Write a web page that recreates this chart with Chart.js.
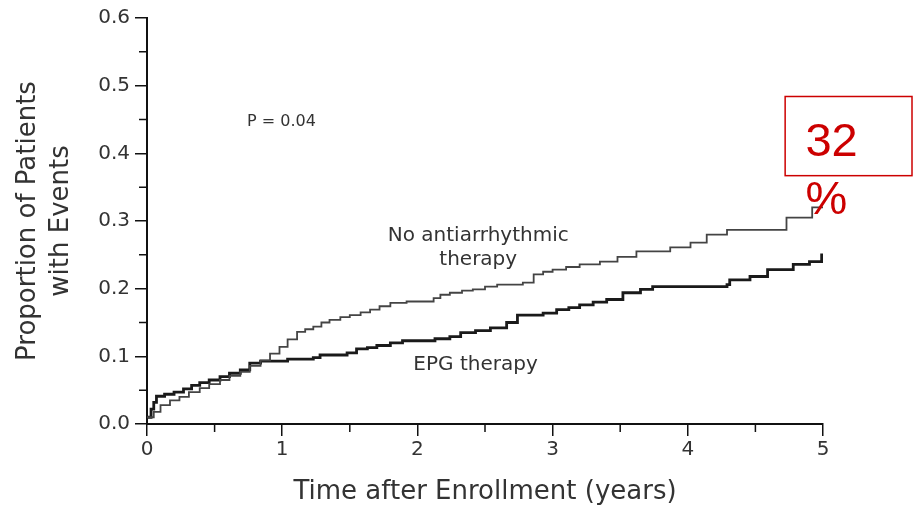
<!DOCTYPE html>
<html>
<head>
<meta charset="utf-8">
<script src="https://cdn.jsdelivr.net/npm/chart.js@4.4.0/dist/chart.umd.min.js"></script>
<style>
  html, body { margin: 0; padding: 0; background: #fff; }
  #wrap { width: 913px; height: 508px; position: relative; }
</style>
</head>
<body>
<div id="wrap"><canvas id="kmChart"></canvas></div>
<script>
// Cumulative event curves (Kaplan-Meier style), years vs proportion
const noTherapyYears = [0, 0.05, 0.10, 0.17, 0.24, 0.31, 0.39, 0.46, 0.54, 0.61, 0.69, 0.76, 0.84, 0.91, 0.98, 1.04, 1.11, 1.17, 1.23, 1.29, 1.35, 1.43, 1.50, 1.58, 1.65, 1.72, 1.80, 1.92, 2.12, 2.17, 2.24, 2.33, 2.41, 2.50, 2.59, 2.78, 2.86, 2.93, 3.00, 3.10, 3.20, 3.35, 3.48, 3.62, 3.87, 4.02, 4.14, 4.29, 4.73, 4.92, 5.00];
const noTherapyProp = [0.01, 0.018, 0.028, 0.035, 0.040, 0.047, 0.053, 0.059, 0.065, 0.071, 0.077, 0.086, 0.094, 0.104, 0.114, 0.125, 0.136, 0.140, 0.144, 0.150, 0.154, 0.158, 0.161, 0.165, 0.169, 0.174, 0.179, 0.181, 0.186, 0.191, 0.194, 0.197, 0.199, 0.203, 0.206, 0.209, 0.221, 0.225, 0.228, 0.232, 0.236, 0.240, 0.247, 0.255, 0.261, 0.268, 0.280, 0.287, 0.305, 0.320, 0.320];

const epgYears = [0, 0.03, 0.05, 0.07, 0.13, 0.20, 0.27, 0.33, 0.39, 0.46, 0.54, 0.61, 0.69, 0.76, 0.84, 1.04, 1.23, 1.28, 1.48, 1.55, 1.63, 1.70, 1.80, 1.89, 2.13, 2.24, 2.32, 2.43, 2.54, 2.66, 2.74, 2.93, 3.03, 3.12, 3.20, 3.30, 3.40, 3.52, 3.65, 3.74, 4.29, 4.31, 4.46, 4.59, 4.78, 4.90, 4.99, 5.00];
const epgProp = [0.01, 0.022, 0.032, 0.041, 0.044, 0.047, 0.052, 0.057, 0.061, 0.065, 0.070, 0.075, 0.080, 0.090, 0.093, 0.096, 0.098, 0.102, 0.105, 0.111, 0.113, 0.116, 0.120, 0.123, 0.126, 0.129, 0.135, 0.138, 0.142, 0.150, 0.161, 0.164, 0.169, 0.172, 0.176, 0.180, 0.184, 0.194, 0.199, 0.203, 0.206, 0.213, 0.218, 0.228, 0.236, 0.240, 0.250, 0.250];

const seriesNames = ['No antiarrhythmic therapy', 'EPG therapy'];
const pValueText = 'P = 0.04';
const highlightValue = '32';

const toPoints = (xs, ys) => xs.map((x, i) => ({ x: x, y: ys[i] }));

const FONT = '"DejaVu Sans", sans-serif';
const INK = '#333';
const AXIS = '#111';

// short minor ticks halfway between the labelled ones
const minorTicksPlugin = {
    id: 'minorTicks',
    afterDraw(chart) {
        const { ctx, scales: { x, y } } = chart;
        ctx.save();
        ctx.strokeStyle = AXIS;
        ctx.lineWidth = 1.5;
        ctx.beginPath();
        for (let i = 0; i < x.ticks.length - 1; i++) {
            const px = x.getPixelForValue((x.ticks[i].value + x.ticks[i + 1].value) / 2);
            ctx.moveTo(px, x.top);
            ctx.lineTo(px, x.top + 8);
        }
        for (let i = 0; i < y.ticks.length - 1; i++) {
            const py = y.getPixelForValue((y.ticks[i].value + y.ticks[i + 1].value) / 2);
            ctx.moveTo(y.right, py);
            ctx.lineTo(y.right - 8, py);
        }
        ctx.stroke();
        ctx.restore();
    }
};

// text labels drawn over the plot, positioned in data units
const labelsPlugin = {
    id: 'kmLabels',
    afterDraw(chart) {
        const { ctx, scales: { x, y } } = chart;
        ctx.save();
        ctx.fillStyle = INK;
        ctx.textBaseline = 'middle';

        ctx.font = '16px ' + FONT;
        ctx.textAlign = 'left';
        ctx.fillText(pValueText, x.getPixelForValue(0.74), y.getPixelForValue(0.446));

        ctx.font = '20px ' + FONT;
        ctx.textAlign = 'center';
        ctx.fillText('No antiarrhythmic', x.getPixelForValue(2.45), y.getPixelForValue(0.278));
        ctx.fillText('therapy', x.getPixelForValue(2.45), y.getPixelForValue(0.242));
        ctx.fillText(seriesNames[1], x.getPixelForValue(2.43), y.getPixelForValue(0.087));

        // red call-out box with the end value
        const bx = x.getPixelForValue(4.72);
        const by = y.getPixelForValue(0.484);
        const bh = y.getPixelForValue(0.367) - by;
        ctx.strokeStyle = '#cc0000';
        ctx.lineWidth = 1.5;
        ctx.strokeRect(bx, by, chart.width - 1 - bx, bh);

        ctx.fillStyle = '#cc0000';
        ctx.font = '47px "Liberation Sans", sans-serif';
        ctx.textAlign = 'left';
        ctx.textBaseline = 'alphabetic';
        ctx.fillText(highlightValue, x.getPixelForValue(4.87), y.getPixelForValue(0.396));
        ctx.fillText('%', x.getPixelForValue(4.87), y.getPixelForValue(0.31));
        ctx.restore();
    }
};

const ctx = document.getElementById('kmChart');
new Chart(ctx, {
    type: 'line',
    data: {
        datasets: [
            {
                label: seriesNames[0],
                data: toPoints(noTherapyYears, noTherapyProp),
                borderColor: '#444',
                borderWidth: 1.8,
                stepped: true,
                pointRadius: 0,
                fill: false
            },
            {
                label: seriesNames[1],
                data: toPoints(epgYears, epgProp),
                borderColor: '#1a1a1a',
                borderWidth: 2.8,
                stepped: true,
                pointRadius: 0,
                fill: false
            }
        ]
    },
    options: {
        responsive: true,
        maintainAspectRatio: false,
        animation: false,
        layout: { padding: { left: 0, top: 18, right: 90, bottom: 0 } },
        plugins: { legend: { display: false }, tooltip: { enabled: false } },
        scales: {
            x: {
                type: 'linear',
                min: 0, max: 5,
                border: { color: AXIS, width: 2 },
                grid: { drawOnChartArea: false, tickLength: 12, color: AXIS, lineWidth: 1.5 },
                ticks: {
                    stepSize: 1, padding: 2, color: INK,
                    font: { family: FONT, size: 20 },
                    maxRotation: 0, autoSkip: false
                },
                title: {
                    display: true, text: 'Time after Enrollment (years)', color: INK,
                    font: { family: FONT, size: 26 }, padding: { bottom: 0 }
                },
                afterFit: s => { s.height = 84; }
            },
            y: {
                min: 0, max: 0.6,
                border: { color: AXIS, width: 2 },
                grid: { drawOnChartArea: false, tickLength: 12, color: AXIS, lineWidth: 1.5 },
                ticks: {
                    stepSize: 0.1, padding: 5, color: INK,
                    font: { family: FONT, size: 20 },
                    autoSkip: false,
                    callback: v => v.toFixed(1)
                },
                title: {
                    display: true, text: ['Proportion of Patients', 'with Events'], color: INK,
                    font: { family: FONT, size: 26, lineHeight: 1.25 }, padding: { top: 12 }
                },
                afterFit: s => { s.width = 147; }
            }
        }
    },
    plugins: [minorTicksPlugin, labelsPlugin]
});
</script>
</body>
</html>
